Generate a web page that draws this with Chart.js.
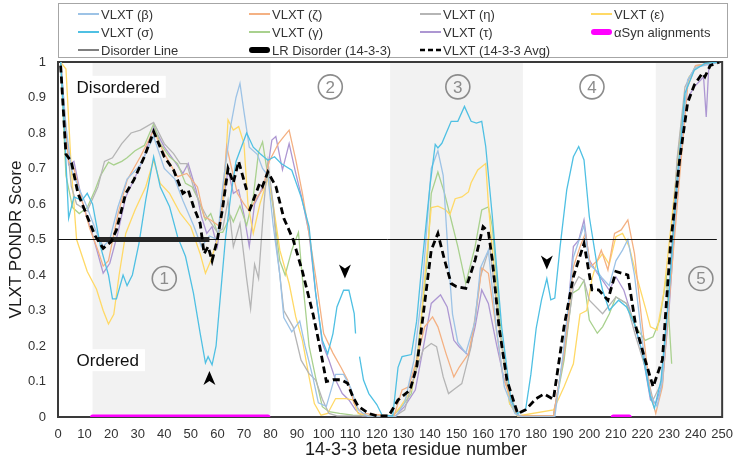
<!DOCTYPE html>
<html>
<head>
<meta charset="utf-8">
<script src="https://cdn.jsdelivr.net/npm/chart.js@4.4.0/dist/chart.umd.min.js"></script>
<style>
  body { margin: 0; background: #fff; font-family: 'Liberation Sans', Arial, sans-serif; }
  #wrap { position: relative; width: 743px; height: 469px; }
  #legend { position: absolute; left: 58px; top: 3px; width: 670px; height: 55px; box-sizing: border-box;
            border: 1px solid #a6a6a6; display: grid; grid-template-columns: repeat(4, 171px);
            grid-auto-rows: 18px; padding: 1px 0 0 19px; font-size: 13px; color: #333; }
  #legend .item { display: flex; align-items: center; white-space: nowrap; }
  #legend svg { margin-right: 2px; }
</style>
</head>
<body>
<div id="wrap">
  <canvas id="chart-pondr" width="743" height="469"></canvas>
  <div id="legend"></div>
</div>
<script>
// x ticks / y ticks
var residueTicks = [0, 250, 10];
var scoreTicks = [0, 1, 0.1];

// [residue, score], null = break in the line
var betaPts = [[1,1],[3,0.82],[5,0.7],[7,0.66],[11,0.59],[14.5,0.52],[17,0.48],[19.5,0.5],[22.5,0.59],[26,0.67],[31,0.71],[36,0.79],[40,0.7],[44,0.67],[47,0.61],[51,0.54],[54,0.48],[57,0.51],[60,0.5],[62,0.65],[65,0.82],[67,0.9],[68.5,0.94],[70,0.86],[72,0.76],[75,0.74],[77,0.7],[79,0.68],[81,0.54],[83.5,0.4],[85,0.28],[88,0.24],[91,0.27],[93,0.2],[96,0.11],[98,0.04],[101,0.03],[104.5,0.12],[107.5,0.12],[110,0.085],[113,0.02],[117,0],[127,0],[130.5,0.04],[134,0.16],[137,0.35],[140.5,0.7],[143,0.75],[145,0.68],[147,0.44],[148.5,0.29],[150.5,0.21],[153.5,0.18],[157,0.27],[159,0.42],[162,0.47],[165,0.25],[168,0.085],[172,0.01],[175,0],[187,0],[190,0.17],[194,0.45],[198,0.54],[200,0.43],[203,0.41],[205,0.39],[207.5,0.37],[210,0.44],[212.5,0.47],[214.5,0.5],[217,0.4],[220,0.21],[223,0.06],[225.5,0.03],[227.5,0.1],[230.5,0.4],[234,0.73],[237,0.95],[240,0.985],[249,1]];
var zetaPts = [[1,1],[4,0.72],[6,0.7],[9,0.61],[12,0.53],[15,0.47],[17,0.425],[19,0.44],[22.5,0.57],[26,0.667],[31,0.733],[36,0.808],[40,0.742],[45,0.677],[48.5,0.686],[52.5,0.648],[55,0.564],[57.5,0.555],[61,0.536],[63.5,0.762],[65.5,0.696],[67.5,0.63],[70,0.6],[72,0.58],[75,0.62],[77,0.64],[79.5,0.72],[83,0.771],[85,0.79],[87,0.808],[89.5,0.724],[92,0.63],[94.5,0.517],[97,0.395],[100,0.235],[103.5,0.18],[106.5,0.14],[109,0.104],[111.5,0.038],[114.5,0.01],[126.5,0.003],[129.5,0.076],[132,0.085],[135,0.16],[138,0.254],[141,0.282],[143,0.254],[146,0.18],[149,0.113],[151,0.14],[154.5,0.178],[157,0.273],[159.5,0.42],[162,0.405],[164.5,0.273],[167.5,0.113],[172,0.02],[173.5,0.003],[186.5,0.003],[190.5,0.178],[194,0.423],[196.5,0.48],[198.5,0.517],[200.5,0.423],[203,0.44],[204.5,0.47],[207,0.414],[209.5,0.517],[212,0.527],[214.5,0.555],[217,0.46],[220,0.254],[223,0.066],[225,0.01],[227.5,0.085],[230.5,0.367],[234,0.677],[237,0.93],[240,0.99],[249,1]];
var etaPts = [[1,1],[3,0.8],[5,0.65],[7,0.6],[11,0.58],[15,0.648],[17.5,0.72],[20.5,0.73],[24,0.77],[27.5,0.8],[31,0.808],[36,0.83],[40,0.77],[43.5,0.742],[46,0.714],[48.5,0.714],[51,0.648],[53.5,0.6],[56,0.564],[60,0.52],[62,0.53],[64,0.61],[66,0.48],[68.5,0.545],[71,0.39],[72.5,0.305],[74,0.43],[75.5,0.39],[77.5,0.6],[79,0.72],[81,0.6],[82,0.5],[85,0.3],[88.5,0.254],[91.5,0.16],[94.5,0.122],[97,0.104],[99.5,0.05],[102,0.01],[105,0.003],[127,0.003],[130.5,0.02],[134,0.113],[137.5,0.19],[140.5,0.207],[142.5,0.198],[145,0.113],[147,0.066],[149.5,0.08],[152,0.094],[155.5,0.198],[159,0.395],[162.5,0.48],[165.5,0.291],[169,0.094],[173,0.003],[186.5,0.003],[190.5,0.178],[194,0.367],[196,0.395],[198,0.385],[200,0.329],[205,0.291],[210,0.338],[214,0.32],[217.5,0.226],[221,0.141],[224,0.048],[227,0.094],[230,0.348],[233,0.725],[236,0.93],[240,0.99],[249,1]];
var epsilonPts = [[1,1],[3,0.98],[5,0.7],[7,0.5],[11,0.41],[14.5,0.36],[17,0.3],[19,0.262],[21,0.289],[23,0.4],[25.5,0.517],[29,0.583],[33,0.648],[36,0.724],[38.5,0.658],[42,0.63],[46,0.574],[50,0.536],[53.5,0.46],[55.5,0.405],[57.5,0.44],[60,0.5],[62.5,0.63],[64,0.837],[66,0.808],[68,0.818],[70,0.77],[71.5,0.6],[73.5,0.517],[76,0.6],[79,0.673],[81,0.6],[83.5,0.47],[87,0.376],[89.5,0.282],[92,0.216],[94.5,0.113],[96.5,0.038],[99,0.005],[101.5,0.01],[104.5,0.052],[108.5,0.052],[111,0.048],[113,0.01],[117,0.003],[126,0.003],[129,0.03],[133,0.076],[135.5,0.16],[138,0.39],[140.5,0.59],[143,0.594],[146,0.583],[147.5,0.57],[149.5,0.615],[152,0.62],[154.5,0.634],[155.5,0.66],[158,0.696],[161,0.714],[162,0.6],[166,0.254],[170,0.038],[173,0.003],[186.5,0.02],[190.5,0.085],[194,0.15],[196.5,0.29],[199,0.3],[201,0.39],[203,0.44],[205,0.46],[207.5,0.43],[210,0.508],[212.5,0.517],[215,0.48],[217.5,0.405],[221,0.31],[223,0.254],[225.5,0.245],[228,0.348],[231,0.555],[234.5,0.818],[237.5,0.958],[241,0.99],[249,1]];
var sigmaPts = [[1,1],[2.5,0.8],[4,0.56],[6,0.62],[9,0.61],[11,0.63],[13,0.6],[16,0.48],[19,0.4],[20.5,0.333],[22,0.333],[24.5,0.4],[26,0.37],[28,0.4],[30.5,0.49],[33,0.61],[36,0.733],[38.5,0.648],[42,0.592],[45,0.508],[48,0.452],[51,0.348],[53.5,0.236],[55.5,0.152],[56.5,0.17],[58,0.147],[59.5,0.2],[61,0.33],[63,0.5],[65,0.622],[67,0.72],[71,0.8],[73.5,0.76],[76,0.742],[79,0.723],[81.5,0.733],[84,0.714],[88,0.695],[91.5,0.62],[94.5,0.536],[97,0.348],[99.5,0.216],[101.5,0.178],[103.5,0.235],[105,0.31],[107.5,0.357],[109.5,0.357],[111.5,0.291],[112,0.235],[112.5,null],[113.5,0.17],[115,0.104],[117,0.066],[120,0.035],[122,0.005],[126,0.003],[128,0.14],[129.5,0.17],[133,0.176],[135,0.27],[136.5,0.392],[140,0.65],[142,0.768],[143,0.758],[144.5,0.771],[148,0.833],[150.5,0.833],[153,0.875],[155.5,0.833],[157.5,0.828],[159.5,0.833],[161,0.762],[163.5,0.564],[167,0.254],[170.5,0.048],[173,0.01],[176,0.02],[178,0.12],[180,0.25],[182,0.33],[184,0.39],[185.5,0.33],[187,0.335],[189,0.48],[191.5,0.64],[194,0.733],[196,0.762],[198,0.724],[200,0.564],[203,0.423],[205,0.357],[207.5,0.301],[211,0.329],[214,0.31],[217,0.263],[220,0.18],[223,0.057],[224.5,0.024],[227,0.104],[230,0.348],[233,0.667],[236,0.912],[239.5,0.977],[243.5,0.996],[249,1]];
var gammaPts = [[1,1],[3,0.68],[5.5,0.59],[8,0.573],[11,0.59],[14,0.64],[16,0.68],[19,0.718],[21,0.71],[24,0.72],[26,0.73],[29,0.75],[32.5,0.765],[36,0.826],[38.5,0.77],[42,0.733],[45,0.714],[48,0.658],[50.5,0.648],[53,0.61],[55.5,0.555],[57.5,0.573],[60,0.52],[62,0.52],[65,0.567],[66,0.55],[68.5,0.595],[71,0.54],[73.5,0.62],[75.5,0.747],[77,0.775],[79,0.68],[81,0.59],[83.5,0.44],[85.5,0.4],[88,0.47],[90.5,0.52],[92,0.39],[94.5,0.2],[97,0.11],[99.5,0.029],[102,0.015],[106,0.01],[111,0.005],[126,0.003],[129.5,0.03],[133,0.066],[135.5,0.19],[139,0.44],[140.5,0.63],[143,0.69],[145.5,0.63],[148,0.555],[150.5,0.48],[153.5,0.376],[157,0.48],[159.5,0.583],[162,0.592],[163.5,0.536],[167,0.216],[170,0.038],[173,0.003],[186.5,0.003],[190.5,0.16],[193.5,0.348],[196,0.36],[198,0.385],[200,0.273],[203,0.236],[205,0.254],[207.5,0.29],[210,0.338],[214,0.32],[217.5,0.254],[221,0.216],[224,0.226],[226.5,0.273],[229,0.395],[231,0.15]];
var tauPts = [[1,1],[4,0.71],[6,0.72],[9,0.61],[12.5,0.527],[15,0.46],[17,0.405],[19.5,0.433],[22.5,0.517],[25.5,0.62],[28.5,0.667],[32.5,0.733],[36,0.817],[40,0.761],[43.5,0.724],[47,0.686],[49,0.714],[52,0.639],[54,0.564],[56,0.517],[58,0.536],[60,0.48],[62,0.6],[64,0.696],[66,0.63],[68,0.64],[70,0.57],[72,0.48],[74,0.6],[76,0.63],[78.5,0.677],[80.5,0.78],[82,0.79],[84.5,0.696],[87,0.77],[89.5,0.686],[92,0.61],[94.5,0.517],[97,0.348],[99.5,0.207],[102,0.16],[104.5,0.104],[107,0.066],[109.5,0.048],[112,0.02],[114.5,0.003],[127,0.003],[130.5,0.03],[134.5,0.076],[138,0.216],[140.5,0.32],[144,0.344],[146.5,0.31],[149,0.216],[151,0.198],[154.5,0.174],[157,0.254],[159.5,0.358],[162,0.32],[165,0.207],[168,0.104],[172,0.02],[173.5,0.003],[186.5,0.003],[190.5,0.178],[194,0.48],[196,0.498],[198,0.555],[200,0.442],[203,0.405],[205,0.385],[207.5,0.357],[210,0.395],[213,0.357],[216.5,0.273],[220,0.18],[223,0.048],[225,0.038],[227.5,0.094],[230,0.301],[233,0.63],[236,0.885],[239.5,0.93],[242,0.95],[243,0.958],[244,0.845],[245,0.99],[247.5,1]];
var avgPts = [[1,0.99],[3,0.74],[5,0.72],[7.5,0.63],[11,0.565],[14,0.51],[17,0.475],[20,0.494],[22,0.527],[25.5,0.63],[28.5,0.667],[32.5,0.733],[36,0.804],[40,0.733],[43.5,0.696],[47,0.63],[49,0.64],[51,0.593],[53.5,0.546],[55,0.46],[56.5,0.48],[58,0.44],[60,0.5],[62,0.59],[64,0.7],[66,0.66],[68,0.72],[71,0.64],[71.5,null],[72,0.58],[76,0.66],[77,0.65],[79,0.69],[82,0.65],[85,0.56],[88.5,0.5],[92,0.41],[96,0.29],[98.5,0.2],[101,0.1],[103.5,0.105],[106.5,0.105],[109,0.095],[111,0.057],[113,0.03],[117,0.01],[120,0.003],[124.5,0.003],[128,0.048],[132.5,0.076],[135,0.14],[138,0.32],[140.5,0.47],[143,0.517],[145.5,0.442],[148,0.376],[150,0.367],[153.5,0.362],[157,0.442],[160,0.536],[162,0.522],[163.5,0.442],[166,0.254],[169,0.104],[173,0.01],[176,0.02],[180,0.052],[183,0.065],[186.5,0.05],[190.5,0.255],[194,0.395],[198,0.489],[201,0.358],[203.5,0.358],[207,0.329],[210,0.41],[214.5,0.4],[217.5,0.255],[221,0.161],[224,0.085],[227.5,0.161],[230.5,0.48],[234,0.725],[237,0.885],[239.5,0.935],[242.5,0.968],[243.5,0.958],[245.5,0.99],[249,1]];
var disorderLine = [[0,0.5],[248,0.5]];
var lrDisorder = [[15,0.5],[57,0.5]];
var synAlign = [[13,0],[79,0],[100,null],[209,0],[215,0]];

// annotations
var shadedRegions = [[13,80],[125,175],[225,250]];
var regionNames = ['1','2','3','4','5'];
var regionSpots = [[40,0.39],[102.5,0.93],[150.5,0.93],[201,0.93],[242,0.39]];
var arrowSpots = [[108,0.41,'down'],[57,0.11,'up'],[184,0.435,'down']];
var zoneLabels = [['Disordered',7,0.93],['Ordered',7,0.16]];

function toXY(pts) {
  return pts.map(function (p) { return {x: p[0], y: p[1]}; });
}

function thin(label, pts, color, order) {
  return {label: label, data: toXY(pts), borderColor: color, backgroundColor: color,
          borderWidth: 1.3, pointRadius: 0, order: order || 4};
}

var datasets = [
  thin('VLXT (\u03b2)', betaPts, '#9dc3e6'),
  thin('VLXT (\u03b6)', zetaPts, '#f4b183'),
  thin('VLXT (\u03b7)', etaPts, '#b5b5b5'),
  thin('VLXT (\u03b5)', epsilonPts, '#ffd966'),
  thin('VLXT (\u03c3)', sigmaPts, '#4fc0e3', 3),
  thin('VLXT (\u03b3)', gammaPts, '#a9d18e'),
  thin('VLXT (\u03c4)', tauPts, '#ad97d2'),
  {label: '\u03b1Syn alignments', data: toXY(synAlign), borderColor: '#ff00ff', borderWidth: 5,
   pointRadius: 0, order: 1, legendWidth: 6, borderCapStyle: 'round'},
  {label: 'Disorder Line', data: toXY(disorderLine), borderColor: '#111', borderWidth: 1,
   pointRadius: 0, order: 2, legendColor: '#7f7f7f', legendWidth: 2},
  {label: 'LR Disorder (14-3-3)', data: toXY(lrDisorder), borderColor: '#262626', borderWidth: 5,
   pointRadius: 0, order: 1, legendColor: '#000', legendWidth: 6},
  {label: 'VLXT (14-3-3 Avg)', data: toXY(avgPts), borderColor: '#000', borderWidth: 2.8,
   borderDash: [7, 4], pointRadius: 0, order: 0, legendWidth: 2.5}
];

var htmlLegend = {
  id: 'htmlLegend',
  afterUpdate: function (chart) {
    var box = document.getElementById('legend');
    box.innerHTML = '';
    chart.data.datasets.forEach(function (ds) {
      var col = ds.legendColor || ds.borderColor;
      var w = ds.legendWidth || 2;
      var dash = ds.borderDash ? ' stroke-dasharray="5,3"' : '';
      var cap = w > 4 ? 'round' : 'butt';
      var item = document.createElement('div');
      item.className = 'item';
      item.innerHTML = '<svg width="21" height="10"><line x1="' + (w > 4 ? 3 : 0) + '" y1="5" x2="' + (w > 4 ? 18 : 21) +
        '" y2="5" stroke="' + col + '" stroke-width="' + w + '" stroke-linecap="' + cap + '"' + dash + '/></svg>' +
        '<span>' + ds.label + '</span>';
      box.appendChild(item);
    });
  }
};

var decorations = {
  id: 'decorations',
  beforeDatasetsDraw: function (chart) {
    var ctx = chart.ctx, a = chart.chartArea, xs = chart.scales.x, ys = chart.scales.y;
    ctx.save();
    ctx.fillStyle = '#f2f2f2';
    shadedRegions.forEach(function (r) {
      var x0 = xs.getPixelForValue(r[0]), x1 = xs.getPixelForValue(r[1]);
      ctx.fillRect(x0, a.top, x1 - x0, a.bottom - a.top);
    });
    ctx.font = '17px "Liberation Sans", Arial, sans-serif';
    ctx.textBaseline = 'middle';
    zoneLabels.forEach(function (z) {
      var x = xs.getPixelForValue(z[1]), y = ys.getPixelForValue(z[2]);
      var w = ctx.measureText(z[0]).width;
      ctx.fillStyle = '#fff';
      ctx.fillRect(x - 4, y - 11, w + 10, 22);
      ctx.fillStyle = '#111';
      ctx.fillText(z[0], x, y + 1);
    });
    ctx.strokeStyle = '#3a3a3a';
    ctx.lineWidth = 2;
    ctx.strokeRect(a.left, a.top, a.right - a.left, a.bottom - a.top);
    ctx.restore();
  },
  afterDatasetsDraw: function (chart) {
    var ctx = chart.ctx, a = chart.chartArea, xs = chart.scales.x, ys = chart.scales.y;
    ctx.save();
    regionSpots.forEach(function (p, i) {
      var x = xs.getPixelForValue(p[0]), y = ys.getPixelForValue(p[1]);
      ctx.beginPath();
      ctx.arc(x, y, 12, 0, Math.PI * 2);
      ctx.strokeStyle = '#8c8c8c';
      ctx.lineWidth = 1.6;
      ctx.stroke();
      ctx.fillStyle = '#8c8c8c';
      ctx.font = '17px "Liberation Sans", Arial, sans-serif';
      ctx.textAlign = 'center';
      ctx.textBaseline = 'middle';
      ctx.fillText(regionNames[i], x, y + 1);
    });
    ctx.fillStyle = '#000';
    arrowSpots.forEach(function (p) {
      var x = xs.getPixelForValue(p[0]), y = ys.getPixelForValue(p[1]);
      var s = p[2] === 'down' ? 1 : -1;
      ctx.beginPath();
      ctx.moveTo(x, y + 7 * s);
      ctx.lineTo(x + 6, y - 7 * s);
      ctx.lineTo(x, y - 3 * s);
      ctx.lineTo(x - 6, y - 7 * s);
      ctx.closePath();
      ctx.fill();
    });
    // axis titles
    ctx.fillStyle = '#1a1a1a';
    ctx.font = '18px "Liberation Sans", Arial, sans-serif';
    ctx.textAlign = 'center';
    ctx.textBaseline = 'middle';
    ctx.fillText('14-3-3 beta residue number', 416, 450);
    ctx.translate(16, (a.top + a.bottom) / 2);
    ctx.rotate(-Math.PI / 2);
    ctx.font = '17px "Liberation Sans", Arial, sans-serif';
    ctx.fillText('VLXT PONDR Score', 0, 0);
    ctx.restore();
  }
};

var ctx = document.getElementById('chart-pondr').getContext('2d');
window.pondrChart = new Chart(ctx, {
  type: 'line',
  data: {datasets: datasets},
  options: {
    responsive: false,
    animation: false,
    spanGaps: false,
    layout: {padding: {top: 62, right: 15, left: 0, bottom: 0}},
    plugins: {legend: {display: false}, tooltip: {enabled: false}},
    scales: {
      x: {
        type: 'linear', min: residueTicks[0], max: residueTicks[1],
        grid: {display: false, drawTicks: false}, border: {display: false},
        ticks: {stepSize: residueTicks[2], autoSkip: false, maxRotation: 0, padding: 10,
                color: '#333', font: {size: 13, family: '"Liberation Sans", Arial, sans-serif'}},
        afterFit: function (s) { s.height = 52; }
      },
      y: {
        min: scoreTicks[0], max: scoreTicks[1],
        grid: {display: false, drawTicks: false}, border: {display: false},
        ticks: {stepSize: scoreTicks[2], padding: 12,
                color: '#333', font: {size: 13, family: '"Liberation Sans", Arial, sans-serif'},
                callback: function (v) { return String(Number(v.toFixed(1))); }},
        afterFit: function (s) { s.width = 58; }
      }
    }
  },
  plugins: [htmlLegend, decorations]
});
</script>
</body>
</html>
